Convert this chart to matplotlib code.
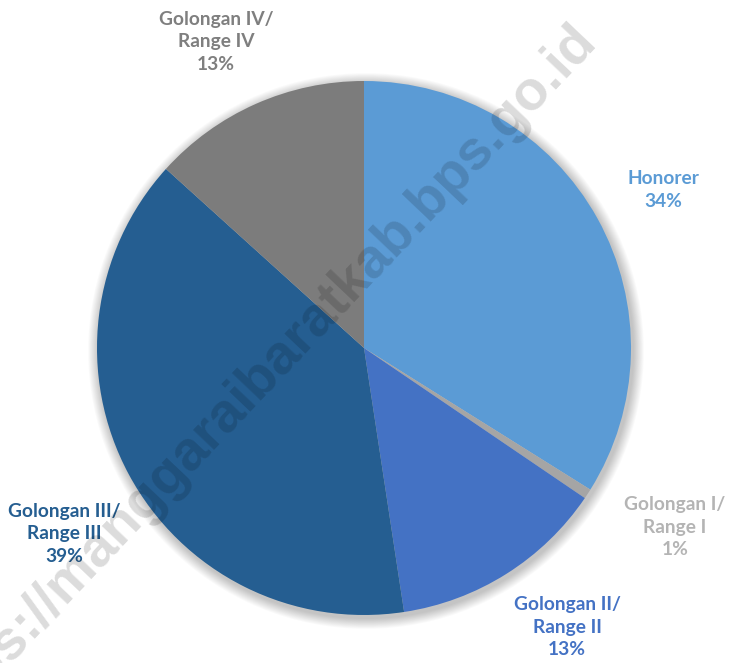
import matplotlib
matplotlib.use("Agg")
import matplotlib.pyplot as plt
from matplotlib.patches import Circle

# data: share of civil servants by rank group (percent)
categories = ["Honorer", "Golongan I/\nRange I", "Golongan II/\nRange II",
              "Golongan III/\nRange III", "Golongan IV/\nRange IV"]
shares = [33.9, 0.6, 13.1, 39.1, 13.3]

colors = ["#5B9BD5", "#A5A5A5", "#4472C4", "#255E91", "#7C7C7C"]
label_colors = ["#5B9BD5", "#B4B4B4", "#4472C4", "#255E91", "#7F7F7F"]
# label anchor (pixels, from top-left)
label_pos = [(663, 190), (675, 527), (567, 627), (64, 534), (216, 42)]

W, H = 731, 663
fig = plt.figure(figsize=(W / 100, H / 100), dpi=100)
ax = fig.add_axes([0, 0, 1, 1])

cx, cy, r = 364, H - 348, 267

# soft shadow behind the pie
for i in range(12):
    ax.add_patch(Circle((cx + 2, cy - 3), r + 1 + i * 0.9, color="black",
                        alpha=0.018, lw=0, zorder=0))

ax.pie(shares, colors=colors, startangle=90, counterclock=False,
       center=(cx, cy), radius=r, frame=True,
       wedgeprops=dict(linewidth=0, edgecolor="none"))
ax.set_xlim(0, W)
ax.set_ylim(0, H)
ax.set_aspect("equal")
ax.axis("off")

for name, val, col, (px, py) in zip(categories, shares, label_colors, label_pos):
    ax.text(px, H - py, f"{name}\n{round(val)}%", color=col, ha="center",
            va="center", fontsize=13.8, fontweight="bold", family="Lato",
            linespacing=1.38, zorder=5)

# watermark
ax.text(257, H - 380, "https://manggaraibaratkab.bps.go.id", rotation=46.5,
        rotation_mode="anchor", ha="center", va="center", fontsize=40,
        fontweight="bold", family="Liberation Sans", color="black",
        alpha=0.14, zorder=6)

fig.savefig("out.png", dpi=100)
